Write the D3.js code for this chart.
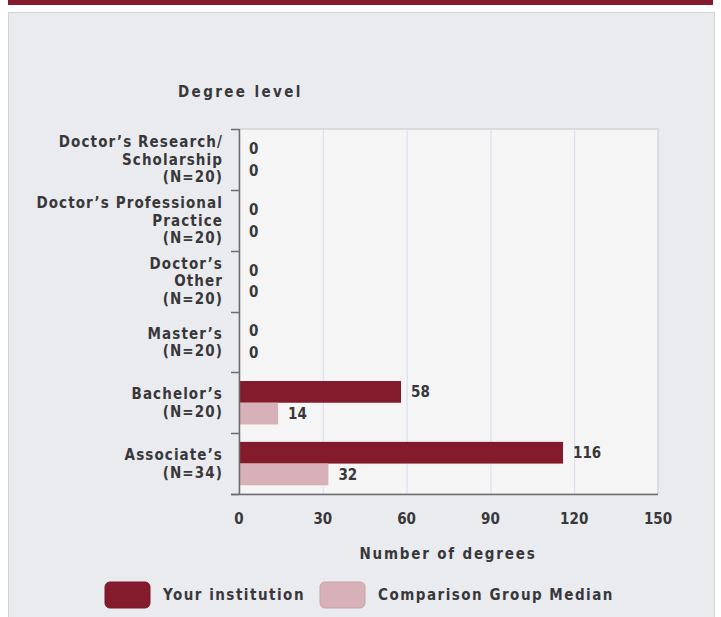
<!DOCTYPE html>
<html lang="en">
  <head>
    <meta charset="UTF-8" />
    <title>Number of degrees by degree level</title>
    <script src="https://cdn.jsdelivr.net/npm/d3@7"></script>
    <style>
      body { margin: 0; background: #fff; }
      text { font-family: "DejaVu Sans Condensed", "DejaVu Sans", sans-serif; font-stretch: condensed; font-weight: bold; fill: #38383a; }
    </style>
  </head>
  <body>
    <script>
      const categories = [
        ["Doctor’s Research/", "Scholarship", "(N=20)"],
        ["Doctor’s Professional", "Practice", "(N=20)"],
        ["Doctor’s", "Other", "(N=20)"],
        ["Master’s", "(N=20)"],
        ["Bachelor’s", "(N=20)"],
        ["Associate’s", "(N=34)"]
      ];
      const yourInstitution = [0, 0, 0, 0, 58, 116];
      const comparisonMedian = [0, 0, 0, 0, 14, 32];
      const xTicks = [0, 30, 60, 90, 120, 150];
      const seriesNames = ["Your institution", "Comparison Group Median"];
      const colors = ["#841b2d", "#d7b1b7"];

      const width = 721, height = 617;
      const margin = { left: 239, right: 63, top: 129, bottom: 123 };

      const svg = d3.select("body").append("svg")
        .attr("width", width).attr("height", height);

      // header strip and panel
      svg.append("rect").attr("x", 8).attr("y", 0).attr("width", 705).attr("height", 5).attr("fill", "#841b2d");
      svg.append("rect").attr("x", 8.5).attr("y", 12.5).attr("width", 706).attr("height", 620)
        .attr("fill", "#eaebef").attr("stroke", "#d3d3d6");

      const x = d3.scaleLinear().domain([0, 150]).range([margin.left, width - margin.right]);
      const y = d3.scaleBand().domain(d3.range(categories.length))
        .range([margin.top, height - margin.bottom]);
      const sub = d3.scaleBand().domain([0, 1]).range([0, y.bandwidth()]).paddingOuter(0.4);

      // plot background
      svg.append("rect")
        .attr("x", x(0)).attr("y", margin.top)
        .attr("width", x(150) - x(0)).attr("height", y.range()[1] - margin.top)
        .attr("fill", "#f5f5f6").attr("stroke", "#c8c8cc");

      // gridlines
      svg.append("g").selectAll("line").data(xTicks.slice(1, -1)).join("line")
        .attr("x1", d => x(d) + 0.5).attr("x2", d => x(d) + 0.5)
        .attr("y1", margin.top).attr("y2", y.range()[1])
        .attr("stroke", "#d6dcec");

      const series = [yourInstitution, comparisonMedian];

      // bars
      series.forEach((vals, s) => {
        svg.append("g").selectAll("rect").data(vals).join("rect")
          .attr("x", x(0))
          .attr("y", (d, i) => y(i) + sub(s))
          .attr("width", d => x(d) - x(0))
          .attr("height", sub.bandwidth())
          .attr("fill", colors[s]);

        svg.append("g").selectAll("text").data(vals).join("text")
          .attr("x", d => x(d) + 10)
          .attr("y", (d, i) => y(i) + sub(s) + sub.bandwidth() / 2)
          .attr("dy", "0.36em")
          .attr("font-size", 15)
          .text(d => d);
      });

      // left axis
      const axisColor = "#6b6b70";
      svg.append("line").attr("x1", x(0) + 0.5).attr("x2", x(0) + 0.5)
        .attr("y1", margin.top).attr("y2", y.range()[1]).attr("stroke", axisColor).attr("stroke-width", 1.5);
      const bounds = d3.range(categories.length + 1).map(i => margin.top + i * y.step());
      svg.append("g").selectAll("line").data(bounds).join("line")
        .attr("x1", x(0) - 8).attr("x2", x(0))
        .attr("y1", d => Math.round(d) + 0.5).attr("y2", d => Math.round(d) + 0.5)
        .attr("stroke", axisColor).attr("stroke-width", 1.5);
      // bottom axis
      svg.append("line").attr("x1", x(0) - 8).attr("x2", x(150))
        .attr("y1", y.range()[1] + 0.5).attr("y2", y.range()[1] + 0.5)
        .attr("stroke", axisColor).attr("stroke-width", 1.5);

      // category labels
      const lineH = 17.5;
      categories.forEach((lines, i) => {
        const cy = y(i) + y.bandwidth() / 2;
        const t = svg.append("text").attr("text-anchor", "end").attr("font-size", 15)
          .attr("letter-spacing", 1.1);
        lines.forEach((l, j) => {
          t.append("tspan").attr("x", x(0) - 16)
            .attr("y", cy + (j - (lines.length - 1) / 2) * lineH)
            .attr("dy", "0.36em").text(l);
        });
      });

      // x tick labels
      svg.append("g").selectAll("text").data(xTicks).join("text")
        .attr("x", d => x(d)).attr("y", 524)
        .attr("text-anchor", "middle").attr("font-size", 15)
        .text(d => d);

      // titles
      svg.append("text").attr("x", 448).attr("y", 559).attr("text-anchor", "middle")
        .attr("font-size", 15).attr("letter-spacing", 1.8).text("Number of degrees");
      svg.append("text").attr("x", 178).attr("y", 97)
        .attr("font-size", 15).attr("letter-spacing", 2.4).text("Degree level");

      // legend
      const legendX = [105, 320];
      seriesNames.forEach((name, s) => {
        svg.append("rect").attr("x", legendX[s]).attr("y", 582).attr("width", 45).attr("height", 26)
          .attr("rx", 5).attr("fill", colors[s]).attr("stroke", s ? "#c9a3a9" : "#7a1829");
        svg.append("text").attr("x", legendX[s] + 58).attr("y", 595).attr("dy", "0.36em")
          .attr("font-size", 15).attr("letter-spacing", 1.5).text(name);
      });
    </script>
  </body>
</html>
